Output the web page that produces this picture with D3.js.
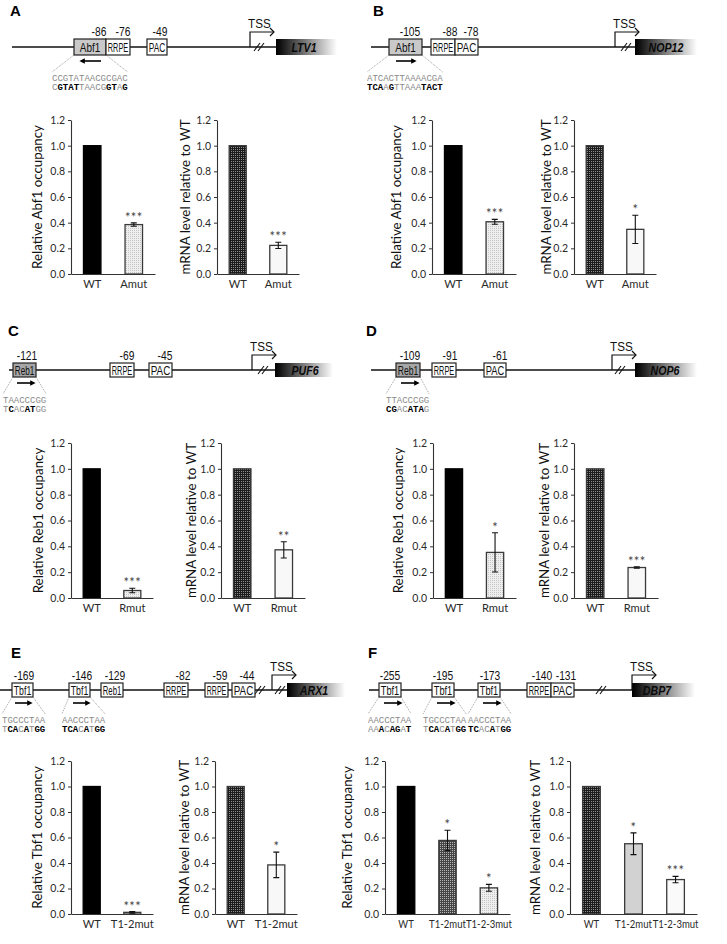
<!DOCTYPE html>
<html><head><meta charset="utf-8">
<script src="https://cdn.jsdelivr.net/npm/d3@7"></script>
<style>body{margin:0;background:#fff}svg{display:block}</style>
</head><body>
<svg id="fig" width="727" height="944"></svg>
<script>
// ================= DATA =================
const yTicks = [0, 0.2, 0.4, 0.6, 0.8, 1.0, 1.2];

const catA = ["WT", "Amut"];
const occA = [1.0, 0.385];  const occErrA = [0, 0.013];  const occSigA = ["", "***"];
const mrnaA = [1.0, 0.223]; const mrnaErrA = [0, 0.024]; const mrnaSigA = ["", "***"];

const catB = ["WT", "Amut"];
const occB = [1.0, 0.407];  const occErrB = [0, 0.019];  const occSigB = ["", "***"];
const mrnaB = [1.0, 0.348]; const mrnaErrB = [0, 0.11];  const mrnaSigB = ["", "*"];

const catC = ["WT", "Rmut"];
const occC = [1.0, 0.058];  const occErrC = [0, 0.017];  const occSigC = ["", "***"];
const mrnaC = [1.0, 0.373]; const mrnaErrC = [0, 0.063]; const mrnaSigC = ["", "**"];

const catD = ["WT", "Rmut"];
const occD = [1.0, 0.353];  const occErrD = [0, 0.152];  const occSigD = ["", "*"];
const mrnaD = [1.0, 0.236]; const mrnaErrD = [0, 0.006]; const mrnaSigD = ["", "***"];

const catE = ["WT", "T1-2mut"];
const occE = [1.0, 0.013];  const occErrE = [0, 0.006];  const occSigE = ["", "***"];
const mrnaE = [1.0, 0.385]; const mrnaErrE = [0, 0.1];   const mrnaSigE = ["", "*"];

const catF = ["WT", "T1-2mut", "T1-2-3mut"];
const occF = [1.0, 0.577, 0.205];  const occErrF = [0.003, 0.08, 0.027];  const occSigF = ["", "*", "*"];
const mrnaF = [1.0, 0.551, 0.27];  const mrnaErrF = [0, 0.085, 0.025];   const mrnaSigF = ["", "*", "***"];

// ================= DRAWING =================
const svg = d3.select("#fig");
const defs = svg.append("defs");
function pat(id, size, base, dots) {
  const p = defs.append("pattern").attr("id", id).attr("width", size).attr("height", size)
    .attr("patternUnits", "userSpaceOnUse");
  p.append("rect").attr("width", size).attr("height", size).attr("fill", base);
  dots.forEach(([x, y, c]) => p.append("rect").attr("x", x).attr("y", y).attr("width", 1).attr("height", 1).attr("fill", c));
}
pat("occMut", 2, "#efefef", [[0, 0, "#c4c4c4"]]);
pat("mrnaWT", 2, "#1c1c1c", [[1, 1, "#8c8c8c"]]);
pat("darkCheck", 2, "#454545", [[0, 0, "#b8b8b8"]]);
const grad = defs.append("linearGradient").attr("id", "geneGrad");
grad.append("stop").attr("offset", "0%").attr("stop-color", "#000");
grad.append("stop").attr("offset", "8%").attr("stop-color", "#111");
grad.append("stop").attr("offset", "100%").attr("stop-color", "#fff");
defs.append("marker").attr("id", "ah").attr("viewBox", "0 0 10 10").attr("refX", 7).attr("refY", 5)
  .attr("markerWidth", 4).attr("markerHeight", 3.4).attr("orient", "auto")
  .append("path").attr("d", "M0,0L10,5L0,10z").attr("fill", "#000");

const CF = "Lato, 'Open Sans', sans-serif";
const DF = "'Liberation Sans', Arial, sans-serif";
const MF = "'Liberation Mono', 'DejaVu Sans Mono', monospace";

const occFills2 = ["#000", "url(#occMut)"];
const mrnaFills2 = ["url(#mrnaWT)", "#f8f8f8"];
const occFills3 = ["#000", "url(#darkCheck)", "url(#occMut)"];
const mrnaFills3 = ["url(#mrnaWT)", "#d2d2d2", "#fafafa"];

function barChart(o) {
  const g = svg.append("g");
  const y = d3.scaleLinear().domain([0, 1.2]).range([o.y0, o.yTop]);
  const x = d3.scaleBand().domain(o.cats).range([o.ax, o.ax + o.w]).paddingInner(0.58).paddingOuter(0.3);
  const bw = x.bandwidth();
  g.selectAll("rect.bar").data(o.vals).join("rect").attr("class", "bar")
    .attr("x", (d, i) => x(o.cats[i])).attr("width", bw)
    .attr("y", d => y(d)).attr("height", d => y(0) - y(d))
    .attr("fill", (d, i) => o.fills[i])
    .attr("stroke", (d, i) => o.fills[i] === "#000" ? "#000" : "#3a3a3a").attr("stroke-width", 1.3);
  o.vals.forEach((v, i) => {
    const e = o.errs[i], cx = x(o.cats[i]) + bw / 2;
    if (e > 0.004) {
      g.append("path").attr("d", `M${cx},${y(v - e)}V${y(v + e)}M${cx - 3},${y(v - e)}H${cx + 3}M${cx - 3},${y(v + e)}H${cx + 3}`)
        .attr("stroke", "#111").attr("stroke-width", 1.1).attr("fill", "none");
    }
    if (o.sigs[i]) {
      g.append("text").attr("x", cx).attr("y", y(v + e) - 1).attr("text-anchor", "middle")
        .attr("font-family", CF).attr("font-size", 13).attr("fill", "#444").attr("letter-spacing", 0.3).text(o.sigs[i]);
    }
  });
  const ya = g.append("g").attr("transform", `translate(${o.ax},0)`)
    .call(d3.axisLeft(y).tickValues(yTicks).tickFormat(d3.format(".1f")).tickSize(3).tickSizeOuter(0).tickPadding(3));
  const xa = g.append("g").attr("transform", `translate(0,${o.y0})`)
    .call(d3.axisBottom(x).tickSize(0).tickSizeOuter(0).tickPadding(6));
  [ya, xa].forEach(a => {
    a.select(".domain").attr("stroke", "#333").attr("stroke-width", 1.1);
    a.selectAll(".tick line").attr("stroke", "#333");
    a.selectAll("text").attr("font-family", CF).attr("fill", "#2a2a2a");
  });
  ya.selectAll("text").attr("font-size", 10.5);
  xa.selectAll("text").attr("font-size", 11.5).attr("transform", `scale(${o.cats.length > 2 ? 0.83 : 0.97},1)`);
  g.append("text").attr("transform", `translate(${o.lx},${y(0.6)}) rotate(-90)`)
    .attr("text-anchor", "middle").attr("dy", "0.35em").attr("font-family", CF).attr("font-size", 13.3)
    .attr("fill", "#111").text(o.label);
}

function ctext(g, x, y, t, size, sx, maxW) {
  const el = g.append("text").attr("text-anchor", "middle").attr("font-family", DF)
    .attr("font-size", size).attr("fill", "#111").text(t);
  let s = sx;
  if (maxW) {
    const nat = el.node().getComputedTextLength();
    if (nat > 0) s = Math.min(sx, maxW / nat);
  }
  el.attr("transform", `translate(${x},${y}) scale(${s},1)`);
  return el;
}

function diagram(d) {
  const g = svg.append("g");
  const bb = d.boxTop + d.boxH;
  g.append("line").attr("x1", d.x0).attr("x2", d.gene[0]).attr("y1", d.lineY).attr("y2", d.lineY)
    .attr("stroke", "#111").attr("stroke-width", 1.3);
  // gene box
  g.append("rect").attr("x", d.gene[0]).attr("y", d.boxTop).attr("width", d.gene[1] - d.gene[0]).attr("height", d.boxH)
    .attr("fill", "url(#geneGrad)");
  ctext(g, d.geneLX, d.lineY + 4.5, d.geneName, 12.5, 0.85)
    .attr("font-weight", "bold").attr("font-style", "italic").attr("fill", "#0a0a0a");
  // slashes
  d.slashes.forEach(s => {
    [-2, 2].forEach(dx => g.append("line").attr("x1", s + dx - 3).attr("y1", d.lineY + 4).attr("x2", s + dx + 3).attr("y2", d.lineY - 4)
      .attr("stroke", "#111").attr("stroke-width", 1.1));
  });
  // boxes
  d.boxes.forEach(b => {
    g.append("rect").attr("x", b.x).attr("y", d.boxTop).attr("width", b.w).attr("height", d.boxH)
      .attr("fill", b.fill || "#fff").attr("stroke", "#222").attr("stroke-width", 1.2);
    ctext(g, b.x + b.w / 2, d.lineY + 4.5, b.t, 12.5, 0.8, b.w - 3.5);
  });
  d.nums.forEach(n => ctext(g, n.x, d.boxTop - 3, n.t, 12.5, 0.82));
  // TSS
  const ty = d.lineY - 15;
  g.append("path").attr("d", `M${d.tss},${d.lineY}V${ty}H${d.tss + 24}`).attr("fill", "none").attr("stroke", "#111").attr("stroke-width", 1.2);
  g.append("path").attr("d", `M${d.tss + 20},${ty - 4}L${d.tss + 24},${ty}L${d.tss + 20},${ty + 4}`).attr("fill", "none").attr("stroke", "#111").attr("stroke-width", 1.2);
  g.append("text").attr("transform", `translate(${d.tss - 2},${ty - 4}) scale(0.9,1)`).attr("font-family", DF).attr("font-size", 13).attr("fill", "#111").text("TSS");
  // arrows
  d.arrows.forEach(a => g.append("line").attr("x1", a[0]).attr("x2", a[1]).attr("y1", bb + 6).attr("y2", bb + 6)
    .attr("stroke", "#000").attr("stroke-width", 1.6).attr("marker-end", "url(#ah)"));
  // fans + sequences (monospace 9px => 5.4px per character)
  d.fans.forEach(f => {
    const cw = 5.4, len = f.s1.length * cw;
    [[f.b1, f.sx], [f.b2, f.sx + len]].forEach(([bx, sx]) => g.append("line").attr("x1", bx).attr("y1", bb).attr("x2", sx).attr("y2", bb + 17)
      .attr("stroke", "#888").attr("stroke-width", 0.8).attr("stroke-dasharray", "1,1"));
    g.append("text").attr("x", f.sx).attr("y", bb + 26).attr("font-family", MF).attr("font-size", 9).attr("fill", "#8a8a8a").text(f.s1);
    const t2 = g.append("text").attr("x", f.sx).attr("y", bb + 35).attr("font-family", MF).attr("font-size", 9);
    f.s2.split("").forEach((c, i) => {
      const b = f.m[i] === "1";
      t2.append("tspan").attr("font-weight", b ? "bold" : "normal").attr("fill", b ? "#000" : "#8a8a8a").text(c);
    });
  });
}

function letter(x, y, t) {
  svg.append("text").attr("x", x).attr("y", y).attr("font-family", DF).attr("font-weight", "bold").attr("font-size", 15).attr("fill", "#000").text(t);
}

// ---- panel letters ----
letter(10, 16, "A"); letter(373, 16, "B");
letter(8, 336, "C"); letter(366, 336, "D");
letter(11, 658, "E"); letter(368, 658, "F");

// ---- promoter diagrams ----
diagram({ lineY: 47, boxTop: 39, boxH: 16, x0: 12, tss: 250, slashes: [259], gene: [276, 337], geneName: "LTV1", geneLX: 304,
  boxes: [{ x: 74, w: 32, t: "Abf1", fill: "#c9c9c9" }, { x: 106, w: 24, t: "RRPE" }, { x: 147, w: 20, t: "PAC" }],
  nums: [{ x: 99, t: "-86" }, { x: 123, t: "-76" }, { x: 160, t: "-49" }],
  arrows: [[101, 81]],
  fans: [{ b1: 74, b2: 106, sx: 52, s1: "CCGTATAACGCGAC", s2: "CGTATTAACGGTAG", m: "01111000001101" }] });

diagram({ lineY: 47, boxTop: 39, boxH: 16, x0: 371, tss: 615, slashes: [626], gene: [635, 697], geneName: "NOP12", geneLX: 666,
  boxes: [{ x: 389, w: 33, t: "Abf1", fill: "#c9c9c9" }, { x: 431, w: 24, t: "RRPE" }, { x: 455, w: 23, t: "PAC" }],
  nums: [{ x: 410, t: "-105" }, { x: 450, t: "-88" }, { x: 471, t: "-78" }],
  arrows: [[396, 415]],
  fans: [{ b1: 389, b2: 422, sx: 367, s1: "ATCACTTAAAACGA", s2: "TCAAGTTAAATACT", m: "11101000001111" }] });

diagram({ lineY: 370, boxTop: 363, boxH: 14, x0: 9, tss: 252, slashes: [263], gene: [275, 333], geneName: "PUF6", geneLX: 305,
  boxes: [{ x: 13, w: 23, t: "Reb1", fill: "#a6a6a6" }, { x: 110, w: 24, t: "RRPE" }, { x: 149, w: 23, t: "PAC" }],
  nums: [{ x: 27, t: "-121" }, { x: 127, t: "-69" }, { x: 165, t: "-45" }],
  arrows: [[17, 34]],
  fans: [{ b1: 13, b2: 36, sx: 3, s1: "TAACCCGG", s2: "TCACATGG", m: "01001100" }] });

diagram({ lineY: 370, boxTop: 363, boxH: 14, x0: 371, tss: 612, slashes: [620], gene: [635, 697], geneName: "NOP6", geneLX: 665,
  boxes: [{ x: 396, w: 24, t: "Reb1", fill: "#a6a6a6" }, { x: 432, w: 24, t: "RRPE" }, { x: 484, w: 22, t: "PAC" }],
  nums: [{ x: 410, t: "-109" }, { x: 450, t: "-91" }, { x: 500, t: "-61" }],
  arrows: [[401, 418]],
  fans: [{ b1: 396, b2: 420, sx: 386, s1: "TTACCCGG", s2: "CGACATAG", m: "11001110" }] });

diagram({ lineY: 690, boxTop: 683, boxH: 14, x0: 0, tss: 272, slashes: [260, 280], gene: [287, 345], geneName: "ARX1", geneLX: 314,
  boxes: [{ x: 12, w: 21, t: "Tbf1" }, { x: 69, w: 21, t: "Tbf1" }, { x: 101, w: 22, t: "Reb1" },
          { x: 164, w: 24, t: "RRPE" }, { x: 205, w: 23, t: "RRPE" }, { x: 232, w: 23, t: "PAC" }],
  nums: [{ x: 24, t: "-169" }, { x: 82, t: "-146" }, { x: 115, t: "-129" }, { x: 183, t: "-82" }, { x: 220, t: "-59" }, { x: 247, t: "-44" }],
  arrows: [[15, 31], [73, 89]],
  fans: [{ b1: 12, b2: 33, sx: 2, s1: "TGCCCTAA", s2: "TCACATGG", m: "01101011" },
         { b1: 69, b2: 90, sx: 62, s1: "AACCCTAA", s2: "TCACATGG", m: "11101011" }] });

diagram({ lineY: 690, boxTop: 683, boxH: 14, x0: 369, tss: 632, slashes: [601], gene: [632, 695], geneName: "DBP7", geneLX: 657,
  boxes: [{ x: 379, w: 22, t: "Tbf1" }, { x: 432, w: 22, t: "Tbf1" }, { x: 478, w: 22, t: "Tbf1" },
          { x: 527, w: 24, t: "RRPE" }, { x: 551, w: 23, t: "PAC" }],
  nums: [{ x: 390, t: "-255" }, { x: 443, t: "-195" }, { x: 490, t: "-173" }, { x: 542, t: "-140" }, { x: 566, t: "-131" }],
  arrows: [[384, 401], [437, 454], [483, 500]],
  fans: [{ b1: 379, b2: 401, sx: 368, s1: "AACCCTAA", s2: "AAACAGAT", m: "00101101" },
         { b1: 432, b2: 454, sx: 423, s1: "TGCCCTAA", s2: "TCACATGG", m: "01101011" },
         { b1: 478, b2: 500, sx: 468, s1: "AACCCTAA", s2: "TCACATGG", m: "11001011" }] });

// ---- bar charts ----
barChart({ ax: 71, w: 84, y0: 274, yTop: 120, cats: catA, vals: occA, errs: occErrA, sigs: occSigA, fills: occFills2, lx: 37, label: "Relative Abf1 occupancy" });
barChart({ ax: 217, w: 82, y0: 274, yTop: 120, cats: catA, vals: mrnaA, errs: mrnaErrA, sigs: mrnaSigA, fills: mrnaFills2, lx: 185, label: "mRNA level relative to WT" });
barChart({ ax: 432, w: 84, y0: 274, yTop: 120, cats: catB, vals: occB, errs: occErrB, sigs: occSigB, fills: occFills2, lx: 396, label: "Relative Abf1 occupancy" });
barChart({ ax: 574, w: 82, y0: 274, yTop: 120, cats: catB, vals: mrnaB, errs: mrnaErrB, sigs: mrnaSigB, fills: mrnaFills2, lx: 546, label: "mRNA level relative to WT" });

barChart({ ax: 71, w: 82, y0: 598, yTop: 443, cats: catC, vals: occC, errs: occErrC, sigs: occSigC, fills: occFills2, lx: 38, label: "Relative Reb1 occupancy" });
barChart({ ax: 221, w: 84, y0: 598, yTop: 443, cats: catC, vals: mrnaC, errs: mrnaErrC, sigs: mrnaSigC, fills: mrnaFills2, lx: 191, label: "mRNA level relative to WT" });
barChart({ ax: 433, w: 83, y0: 598, yTop: 443, cats: catD, vals: occD, errs: occErrD, sigs: occSigD, fills: occFills2, lx: 398, label: "Relative Reb1 occupancy" });
barChart({ ax: 574, w: 84, y0: 598, yTop: 443, cats: catD, vals: mrnaD, errs: mrnaErrD, sigs: mrnaSigD, fills: mrnaFills2, lx: 544, label: "mRNA level relative to WT" });

barChart({ ax: 71, w: 82, y0: 914, yTop: 761, cats: catE, vals: occE, errs: occErrE, sigs: occSigE, fills: occFills2, lx: 37, label: "Relative Tbf1 occupancy" });
barChart({ ax: 215, w: 82, y0: 914, yTop: 761, cats: catE, vals: mrnaE, errs: mrnaErrE, sigs: mrnaSigE, fills: mrnaFills2, lx: 184, label: "mRNA level relative to WT" });
barChart({ ax: 385, w: 125, y0: 914, yTop: 761, cats: catF, vals: occF, errs: occErrF, sigs: occSigF, fills: occFills3, lx: 347, label: "Relative Tbf1 occupancy" });
barChart({ ax: 570, w: 127, y0: 914, yTop: 761, cats: catF, vals: mrnaF, errs: mrnaErrF, sigs: mrnaSigF, fills: mrnaFills3, lx: 535, label: "mRNA level relative to WT" });
</script>
</body></html>
